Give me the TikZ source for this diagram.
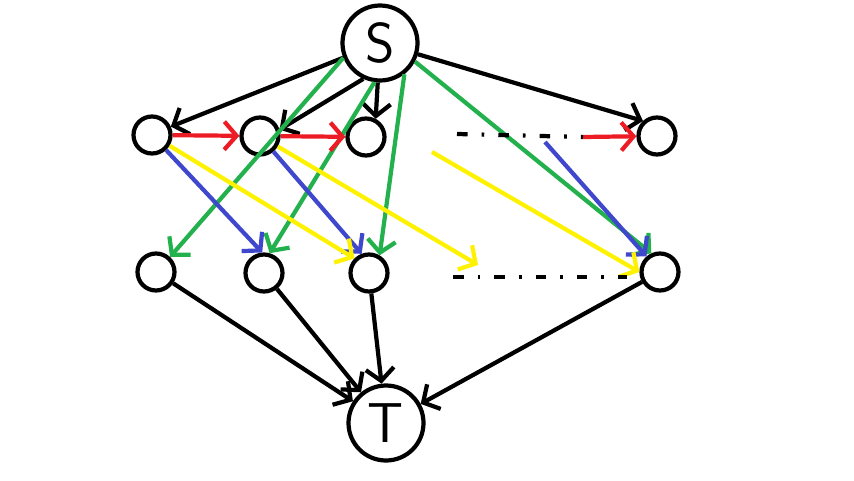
\documentclass[tikz,border=0pt]{standalone}
\usepackage{xcolor}
\usepackage{tikz}
\usetikzlibrary{arrows.meta}
\definecolor{paintred}{HTML}{ED1C24}
\definecolor{paintgreen}{HTML}{22B14C}
\definecolor{paintblue}{HTML}{3F48CC}
\definecolor{paintyellow}{HTML}{FFF200}
\tikzset{
  vtx/.style={circle,draw=black,line width=2.4pt,minimum size=0.74cm,inner sep=0pt},
  bigvtx/.style={vtx,minimum size=1.5cm,font=\fontsize{32}{32}\selectfont\sffamily},
  flow/.style={line width=2.4pt,-{Straight Barb[length=7pt,width=16pt]}},
  gaps/.style={line width=2.4pt,dash pattern=on 6pt off 8pt on 1.5pt off 8pt},
}

\begin{document}
\begin{tikzpicture}
  \useasboundingbox (0,0) rectangle (17.08,9.6);
  % source and sink
  \node[bigvtx] (S) at (7.60,8.74) {S};
  \node[bigvtx] (T) at (7.72,1.14) {T};
  % upper row
  \node[vtx] (a1) at (3.04,6.90) {};
  \node[vtx] (a2) at (5.20,6.88) {};
  \node[vtx] (a3) at (7.32,6.86) {};
  \node[vtx] (a4) at (13.14,6.88) {};
  % lower row
  \node[vtx] (b1) at (3.12,4.16) {};
  \node[vtx] (b2) at (5.28,4.14) {};
  \node[vtx] (b3) at (7.38,4.14) {};
  \node[vtx] (b4) at (13.20,4.16) {};
  % loose ends
  \coordinate (gapA) at (9.14,6.92);
  \coordinate (gapB) at (11.66,6.86);
  \coordinate (gapC) at (9.06,4.06);
  \coordinate (gapD) at (12.54,4.06);
  \coordinate (blueA) at (10.90,6.76);
  \coordinate (yelA) at (8.64,6.56);
  \coordinate (yelB) at (9.56,4.30);
  % from S
  \draw[flow] (S) -- (a1.24);
  \draw[flow] (S.245) -- (a2.18);
  \draw[flow] (S) -- (a3.62);
  \draw[flow] (S) -- (a4.133);
  \draw[flow,paintgreen] (S.202) -- (b1.47);
  \draw[flow,paintgreen] (S.262) -- (b2.74);
  \draw[flow,paintgreen] (S.308) -- (b3.59);
  \draw[flow,paintgreen] (S.332) -- (b4.115);
  % along the upper row
  \draw[flow,paintred] (a1) -- (a2);
  \draw[flow,paintred] (a2) -- (a3);
  \draw[flow,paintred] (gapB) -- (a4);
  \draw[gaps] (gapA) -- (gapB);
  % down to the lower row
  \draw[flow,paintblue] (a1) -- (b2.95);
  \draw[flow,paintblue] (a2) -- (b3.111);
  \draw[flow,paintblue] (blueA) -- (b4.131);
  \draw[flow,paintyellow] (a1) -- (b3.135);
  \draw[flow,paintyellow] (a2) -- (yelB);
  \draw[flow,paintyellow] (yelA) -- (b4.180);
  \draw[gaps] (gapC) -- (gapD);
  % into T
  \foreach \v in {b1,b2,b3,b4}
    \draw[flow] (\v) -- (T);
\end{tikzpicture}
\end{document}
